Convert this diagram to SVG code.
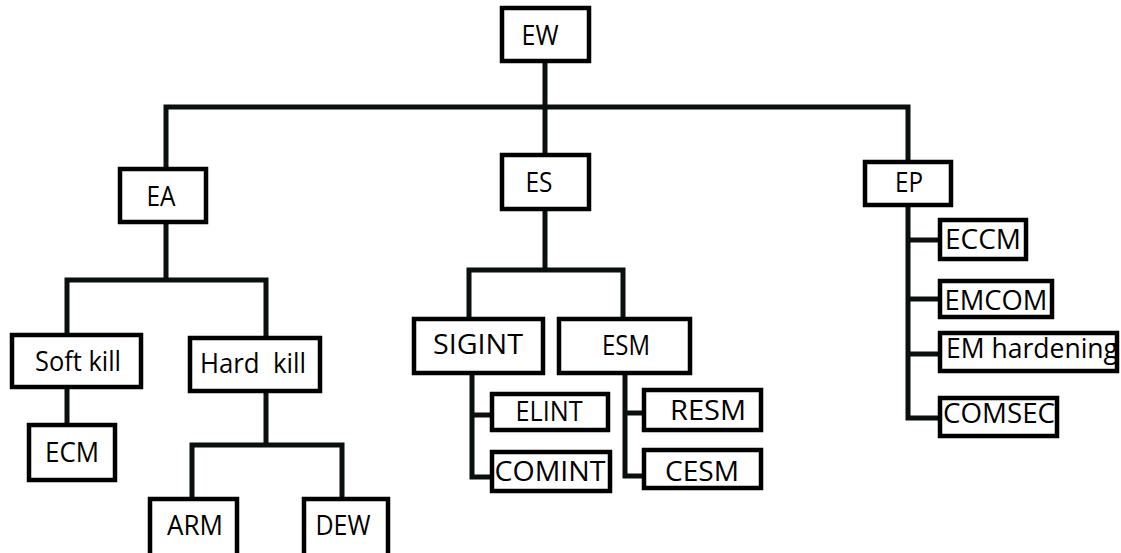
<svg xmlns="http://www.w3.org/2000/svg" width="1121" height="553" viewBox="0 0 1121 553">
<style>
  .box { fill: #ffffff; stroke: #000000; stroke-width: 4.5; }
  .conn { fill: none; stroke: #0a0f0f; stroke-width: 5; stroke-linejoin: miter; }
  text { font-family: "Open Sans", "Liberation Sans", sans-serif; font-size: 27px; fill: #000000; text-anchor: middle; }
</style>
<rect width="1121" height="553" fill="#ffffff"/>
<g id="connectors">
  <path class="conn" d="M545,63 V155"/>
  <path class="conn" d="M166,169 V107 H908 V162"/>
  <path class="conn" d="M166,224 V280"/>
  <path class="conn" d="M67,335 V280 H266 V338"/>
  <path class="conn" d="M67,389 V425"/>
  <path class="conn" d="M266,393 V445"/>
  <path class="conn" d="M192,499 V445 H342 V499"/>
  <path class="conn" d="M545,211 V270"/>
  <path class="conn" d="M469,319 V270 H623 V319"/>
  <path class="conn" d="M472,374 V477 H492"/>
  <path class="conn" d="M472,415 H492"/>
  <path class="conn" d="M625,374 V476 H644"/>
  <path class="conn" d="M625,413 H644"/>
  <path class="conn" d="M908,207 V418 H940"/>
  <path class="conn" d="M908,240 H940"/>
  <path class="conn" d="M908,299 H940"/>
  <path class="conn" d="M908,354 H940"/>
</g>
<g id="EW"><rect class="box" x="502" y="8" width="87" height="53"/><text x="540" y="45" textLength="37" lengthAdjust="spacingAndGlyphs">EW</text></g>
<g id="EA"><rect class="box" x="120" y="169" width="86" height="53"/><text x="161" y="206" textLength="29" lengthAdjust="spacingAndGlyphs">EA</text></g>
<g id="ES"><rect class="box" x="502" y="155" width="87" height="54"/><text x="539" y="192" textLength="27" lengthAdjust="spacingAndGlyphs">ES</text></g>
<g id="EP"><rect class="box" x="865" y="162" width="86" height="43"/><text x="909" y="192" textLength="28" lengthAdjust="spacingAndGlyphs">EP</text></g>
<g id="SoftKill"><rect class="box" x="12" y="335" width="129" height="52"/><text x="78" y="371" textLength="86" lengthAdjust="spacingAndGlyphs">Soft kill</text></g>
<g id="HardKill"><rect class="box" x="190" y="338" width="130" height="53"/><text x="253" y="373" textLength="106" lengthAdjust="spacingAndGlyphs" xml:space="preserve">Hard  kill</text></g>
<g id="ECM"><rect class="box" x="29" y="425" width="86" height="55"/><text x="72" y="462" textLength="54" lengthAdjust="spacingAndGlyphs">ECM</text></g>
<g id="ARM"><rect class="box" x="150" y="499" width="87" height="62"/><text x="195" y="535" textLength="56" lengthAdjust="spacingAndGlyphs">ARM</text></g>
<g id="DEW"><rect class="box" x="304" y="499" width="84" height="62"/><text x="343" y="535" textLength="55" lengthAdjust="spacingAndGlyphs">DEW</text></g>
<g id="SIGINT"><rect class="box" x="414" y="319" width="129" height="54"/><text x="478" y="354" textLength="90" lengthAdjust="spacingAndGlyphs">SIGINT</text></g>
<g id="ESM"><rect class="box" x="559" y="319" width="131" height="54"/><text x="626" y="355" textLength="48" lengthAdjust="spacingAndGlyphs">ESM</text></g>
<g id="ELINT"><rect class="box" x="492" y="394" width="116" height="36"/><text x="549" y="421" textLength="67" lengthAdjust="spacingAndGlyphs">ELINT</text></g>
<g id="COMINT"><rect class="box" x="492" y="452" width="118" height="39"/><text x="550" y="481" textLength="111" lengthAdjust="spacingAndGlyphs">COMINT</text></g>
<g id="RESM"><rect class="box" x="644" y="390" width="117" height="40"/><text x="708" y="420" textLength="76" lengthAdjust="spacingAndGlyphs">RESM</text></g>
<g id="CESM"><rect class="box" x="644" y="450" width="117" height="38"/><text x="702" y="481" textLength="74" lengthAdjust="spacingAndGlyphs">CESM</text></g>
<g id="ECCM"><rect class="box" x="940" y="220" width="86" height="39"/><text x="983" y="249" textLength="76" lengthAdjust="spacingAndGlyphs">ECCM</text></g>
<g id="EMCOM"><rect class="box" x="940" y="281" width="112" height="36"/><text x="996" y="310" textLength="103" lengthAdjust="spacingAndGlyphs">EMCOM</text></g>
<g id="EMHardening"><rect class="box" x="940" y="333" width="177" height="38"/><text x="1032" y="358" textLength="172" lengthAdjust="spacingAndGlyphs">EM hardening</text></g>
<g id="COMSEC"><rect class="box" x="940" y="398" width="117" height="38"/><text x="999" y="423" textLength="112" lengthAdjust="spacingAndGlyphs">COMSEC</text></g>
</svg>
